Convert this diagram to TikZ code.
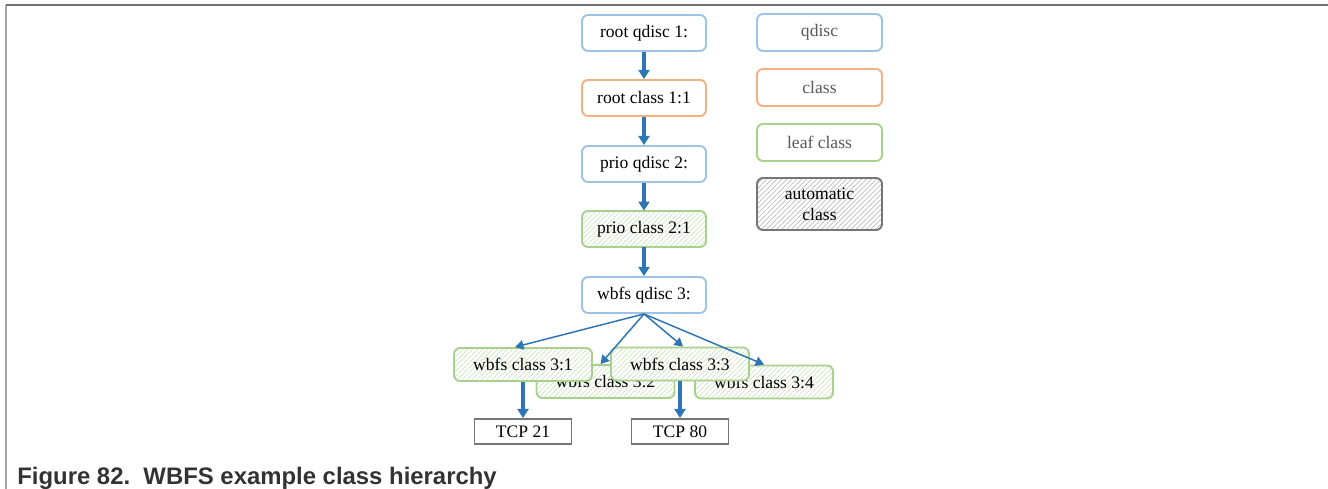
\documentclass[tikz,border=0pt]{standalone}
\usepackage{fontspec}
\setmainfont{Liberation Serif}
\newfontfamily\capfont{Liberation Sans}
\usepackage{xcolor}
\usepackage{tikz}
\usetikzlibrary{arrows.meta, patterns.meta}
\definecolor{myblue}{RGB}{46,117,182}
\definecolor{qdiscline}{RGB}{157,195,230}
\definecolor{classline}{RGB}{244,177,131}
\definecolor{leafline}{RGB}{169,209,142}
\definecolor{leafhatch}{RGB}{206,230,192}
\definecolor{autoline}{RGB}{118,118,118}
\definecolor{autohatch}{RGB}{188,188,188}
\definecolor{legendtext}{RGB}{89,89,89}
\definecolor{frameline}{RGB}{112,112,112}
\definecolor{framelight}{RGB}{165,165,165}
\tikzset{
  box/.style={rectangle, rounded corners=3.4pt, line width=1.1pt, fill=white,
    minimum width=2.48cm, minimum height=0.72cm, inner sep=1pt,
    font=\fontsize{10}{12}\selectfont, align=center},
  qdiscbox/.style={box, draw=qdiscline},
  classbox/.style={box, draw=classline},
  leafbox/.style={box, draw=leafline, preaction={fill=white},
    pattern={Lines[angle=45,distance=2pt,line width=0.4pt]}, pattern color=leafhatch},
  autobox/.style={box, draw=autoline, preaction={fill=white},
    pattern={Lines[angle=45,distance=2pt,line width=0.4pt]}, pattern color=autohatch},
  legend/.style={minimum width=2.5cm, minimum height=0.74cm, text=legendtext},
  wbfsclass/.style={leafbox, minimum width=2.76cm, minimum height=0.66cm},
  tcpbox/.style={rectangle, draw=autoline, line width=1.1pt, fill=white,
    minimum width=1.94cm, minimum height=0.5cm, inner sep=1pt,
    font=\fontsize{10}{12}\selectfont},
  arrow/.style={-{Triangle[width=6.3pt,length=5.2pt]}, line width=1.9pt, color=myblue},
  thinarrow/.style={-{Triangle[width=5.5pt,length=4.8pt]}, line width=0.85pt, color=myblue}
}

\begin{document}
\begin{tikzpicture}[x=0.02cm, y=-0.02cm]
  \useasboundingbox (0,0) rectangle (1328,489);

  % Frame
  \draw[line width=1.6pt, color=framelight] (6,5) -- (6,489);
  \draw[line width=1.2pt, color=frameline] (6,5) -- (1328,5);

  % Main chain
  \node[qdiscbox] (qroot) at (644,33) {root qdisc 1:};
  \node[classbox] (croot) at (644,98) {root class 1:1};
  \node[qdiscbox] (qprio) at (644,164) {prio qdisc 2:};
  \node[leafbox] (cprio) at (644,229) {prio class 2:1};
  \node[qdiscbox] (qwbfs) at (644,295) {wbfs qdisc 3:};

  % Legend
  \node[qdiscbox, legend] (lqdisc) at (819.5,32.5) {qdisc};
  \node[classbox, legend] (lclass) at (819.5,87.5) {class};
  \node[box, draw=leafline, legend] (lleaf) at (819.5,142.5) {leaf class};
  \node[autobox, minimum width=2.5cm, minimum height=1.04cm] (lauto) at (819.5,204) {automatic\\class};

  % wbfs classes (3:1 and 3:3 lie on top)
  \node[wbfsclass] (c32) at (605.5,381.5) {wbfs class 3:2};
  \node[wbfsclass] (c34) at (764,382) {wbfs class 3:4};
  \node[wbfsclass] (c31) at (523,364.5) {wbfs class 3:1};
  \node[wbfsclass] (c33) at (680,364) {wbfs class 3:3};

  % Filters
  \node[tcpbox] (tcp21) at (523,431.5) {TCP 21};
  \node[tcpbox] (tcp80) at (680,431.5) {TCP 80};

  % Connectors
  \draw[arrow] (qroot) -- (croot);
  \draw[arrow] (croot) -- (qprio);
  \draw[arrow] (qprio) -- (cprio);
  \draw[arrow] (cprio) -- (qwbfs);
  \draw[thinarrow] (qwbfs.south) -- ([xshift=-0.16cm]c31.north);
  \draw[thinarrow] (qwbfs.south) -- ([xshift=-0.1cm]c32.north);
  \draw[thinarrow] (qwbfs.south) -- ([xshift=0.06cm]c33.north);
  \draw[thinarrow] (qwbfs.south) -- (c34.north);
  \draw[arrow] (c31) -- (tcp21);
  \draw[arrow] (c33) -- (tcp80);

  % Caption
  \node[anchor=base west, inner sep=0pt, font=\capfont\bfseries\fontsize{13.6}{16}\selectfont,
    text=black!80] (caption) at (17,484) {Figure 82.\ \ WBFS example class hierarchy};
\end{tikzpicture}
\end{document}
